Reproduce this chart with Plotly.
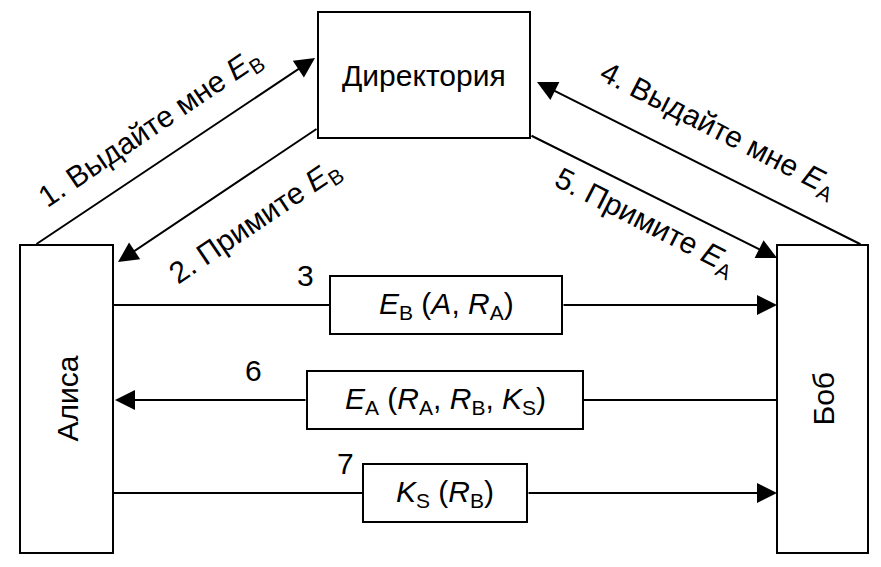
import plotly.graph_objects as go

# boxes: label, x0, y0, x1, y1 (pixel-like coordinates, y grows downward)
box_names = ["Директория", "Алиса", "Боб"]
box_x0 = [318, 20, 777]
box_y0 = [12, 245, 245]
box_x1 = [530, 113, 868]
box_y1 = [138, 553, 553]
box_angle = [0, -90, -90]

# diagonal messages: start -> end (arrowhead at end)
diag_labels = ["1. Выдайте мне <i>E</i><sub>B</sub>", "2. Примите <i>E</i><sub>B</sub>",
               "4. Выдайте мне <i>E</i><sub>A</sub>", "5. Примите <i>E</i><sub>A</sub>"]
diag_from = [(35, 245), (318, 128), (862, 245), (530, 135)]
diag_to = [(315, 58), (118, 262), (537, 82), (777, 258)]
diag_label_pos = [(150, 128), (255, 222), (718, 130), (645, 222)]
diag_label_angle = [-34, -34, 27, 27]

# horizontal messages
msg_nums = ["3", "6", "7"]
msg_y = [305, 400, 493]
msg_from = [113, 777, 113]
msg_to = [777, 115, 777]
msg_text = ["<i>E</i><sub>B</sub> (<i>A</i>, <i>R</i><sub>A</sub>)",
            "<i>E</i><sub>A</sub> (<i>R</i><sub>A</sub>, <i>R</i><sub>B</sub>, <i>K</i><sub>S</sub>)",
            "<i>K</i><sub>S</sub> (<i>R</i><sub>B</sub>)"]
msg_box_x0 = [330, 307, 363]
msg_box_x1 = [562, 583, 527]
msg_num_x = [305, 253, 345]

font = dict(family="Liberation Sans, Arial", size=30, color="black")
line = dict(color="black", width=2)
fig = go.Figure()
shapes, anns = [], []

for n, x0, y0, x1, y1, a in zip(box_names, box_x0, box_y0, box_x1, box_y1, box_angle):
    shapes.append(dict(type="rect", x0=x0, y0=y0, x1=x1, y1=y1, line=line, fillcolor="white"))
    anns.append(dict(x=(x0 + x1) / 2, y=(y0 + y1) / 2, text=n, showarrow=False, textangle=a, font=font))

def arrow(p0, p1):
    return dict(x=p1[0], y=p1[1], ax=p0[0], ay=p0[1], xref="x", yref="y", axref="x", ayref="y",
                text="", showarrow=True, arrowhead=2, arrowsize=2, arrowwidth=2, arrowcolor="black")

for lab, p0, p1, pos, ang in zip(diag_labels, diag_from, diag_to, diag_label_pos, diag_label_angle):
    anns.append(arrow(p0, p1))
    anns.append(dict(x=pos[0], y=pos[1], text=lab, showarrow=False, textangle=ang, font=font))

for num, y, xf, xt, t, bx0, bx1, nx in zip(msg_nums, msg_y, msg_from, msg_to, msg_text, msg_box_x0, msg_box_x1, msg_num_x):
    # tail segment up to the box, arrow from the far box edge to the target
    near, far = (bx0, bx1) if xf < xt else (bx1, bx0)
    shapes.append(dict(type="line", x0=xf, x1=near, y0=y, y1=y, line=line))
    anns.append(arrow((far, y), (xt, y)))
    shapes.append(dict(type="rect", x0=bx0, x1=bx1, y0=y - 29, y1=y + 29, line=line, fillcolor="white"))
    anns.append(dict(x=(bx0 + bx1) / 2, y=y, text=t, showarrow=False, font=font))
    anns.append(dict(x=nx, y=y - 30, text=num, showarrow=False, font=font))

fig.update_layout(width=881, height=567, margin=dict(l=0, r=0, t=0, b=0),
                  plot_bgcolor="white", paper_bgcolor="white", shapes=shapes, annotations=anns,
                  xaxis=dict(range=[8, 889], visible=False),
                  yaxis=dict(range=[575, 8], visible=False), showlegend=False)
fig.write_html("out.html")
